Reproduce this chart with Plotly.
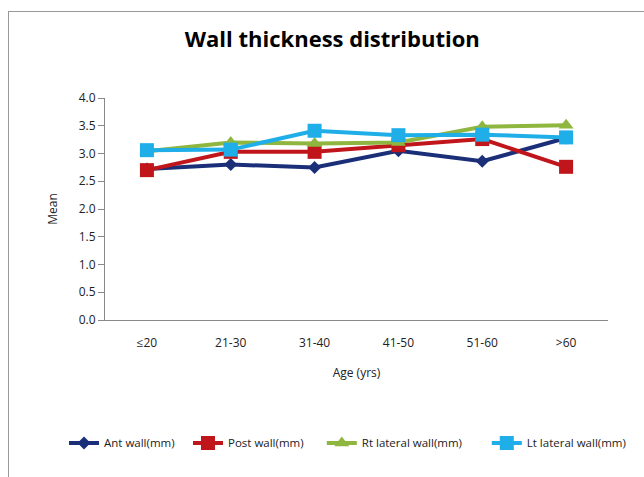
import plotly.graph_objects as go

categories = ["≤20", "21-30", "31-40", "41-50", "51-60", ">60"]
ant_wall = [2.72, 2.80, 2.75, 3.05, 2.86, 3.28]
post_wall = [2.70, 3.03, 3.03, 3.15, 3.26, 2.76]
rt_lateral = [3.04, 3.20, 3.18, 3.20, 3.48, 3.51]
lt_lateral = [3.06, 3.07, 3.41, 3.33, 3.34, 3.29]

series = [
    ("Ant wall(mm)", ant_wall, "#1B2F78", "diamond", 10, "legend", -0.0815),
    ("Post wall(mm)", post_wall, "#C0161B", "square", 14, "legend2", 0.165),
    ("Rt lateral wall(mm)", rt_lateral, "#8FB63E", "triangle-up", 13, "legend3", 0.431),
    ("Lt lateral wall(mm)", lt_lateral, "#1FAEE8", "square", 14, "legend4", 0.759),
]

font_family = "Open Sans, Lato, sans-serif"

fig = go.Figure()
legends = {}
for name, vals, color, sym, size, lg, lx in series:
    fig.add_trace(go.Scatter(
        x=categories, y=vals, name=name, mode="lines+markers",
        line=dict(color=color, width=4),
        marker=dict(symbol=sym, size=size, color=color),
        legend=lg,
    ))
    legends[lg] = dict(orientation="h", x=lx, xanchor="left", y=-0.554, yanchor="middle",
                       font=dict(size=11.5, color="#222", family=font_family),
                       bgcolor="rgba(0,0,0,0)")

fig.update_layout(
    width=644, height=477,
    margin=dict(l=105, r=36, t=98, b=157),
    paper_bgcolor="white", plot_bgcolor="white",
    font=dict(family=font_family, size=11, color="#222"),
    title=dict(text="<b>Wall thickness distribution</b>", x=0.516, xanchor="center",
               y=0.917, yanchor="middle", font=dict(size=22, color="black")),
    showlegend=True,
    xaxis=dict(type="category", range=[-0.5, 5.5], showgrid=False, showline=True,
               linecolor="#888", linewidth=1, ticks="outside", ticklen=12,
               tickcolor="rgba(0,0,0,0)", tickfont=dict(size=12),
               title=dict(text="Age (yrs)", font=dict(size=12), standoff=18)),
    yaxis=dict(range=[0, 4.0], dtick=0.5, tickformat=".1f", showgrid=False,
               showline=True, linecolor="#888", linewidth=1, ticks="outside",
               tickcolor="#888", ticklen=6, tickfont=dict(size=12), zeroline=False,
               title=dict(text="Mean", font=dict(size=12), standoff=18)),
    **legends,
)

post = (
    "document.body.style.margin='0';document.body.style.overflow='hidden';"
    "var fr=document.createElement('div');"
    "fr.style.cssText='position:absolute;left:8px;top:11px;width:700px;height:600px;"
    "border-left:1px solid #999;border-top:1px solid #999;pointer-events:none;box-sizing:border-box;';"
    "document.body.appendChild(fr);"
)
fig.write_html("out.html", config={"displayModeBar": False}, post_script=post)
